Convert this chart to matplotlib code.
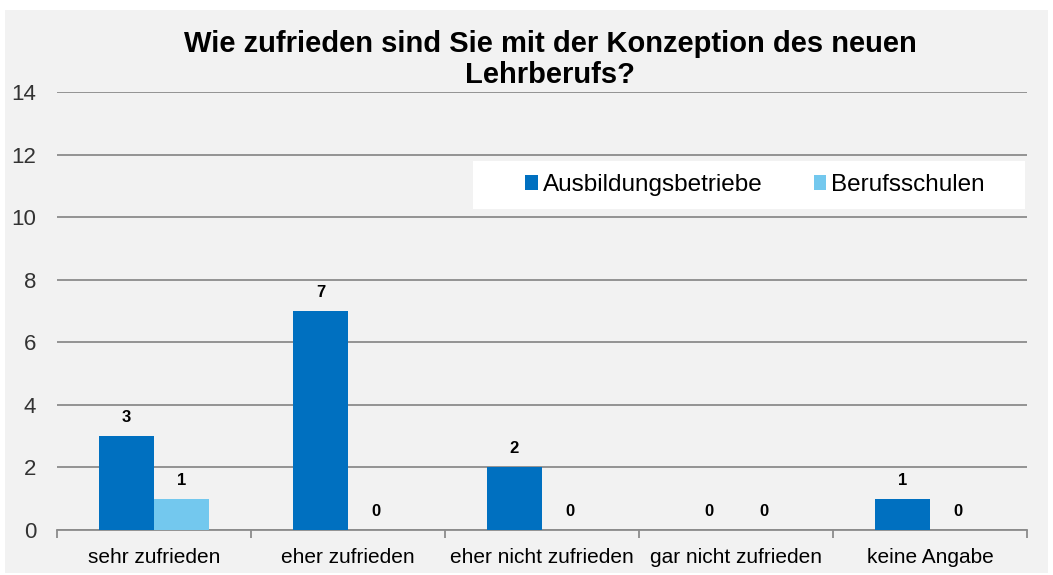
import matplotlib.pyplot as plt
import numpy as np
from matplotlib.patches import Rectangle

plt.rcParams['font.family'] = ['Liberation Sans', 'DejaVu Sans']

categories = ['sehr zufrieden', 'eher zufrieden', 'eher nicht zufrieden',
              'gar nicht zufrieden', 'keine Angabe']
betriebe = [3, 7, 2, 0, 1]
schulen = [1, 0, 0, 0, 0]
yticks = [0, 2, 4, 6, 8, 10, 12, 14]

c_betriebe = '#0070c0'
c_schulen = '#73c8ee'
grid_col = '#8c8c8c'

fig = plt.figure(figsize=(10.53, 5.75), dpi=100)
fig.patch.set_facecolor('white')
fig.patches.append(Rectangle((5 / 1053, 2 / 575), 1043 / 1053, 563 / 575,
                             transform=fig.transFigure, facecolor='#f2f2f2',
                             edgecolor='none', zorder=-10))

ax = fig.add_axes([57 / 1053, 45 / 575, 970 / 1053, 438 / 575])
ax.set_facecolor('#f2f2f2')

x = np.arange(len(categories))
w = 0.284
b1 = ax.bar(x - w / 2, betriebe, w, color=c_betriebe, label='Ausbildungsbetriebe', zorder=3)
b2 = ax.bar(x + w / 2, schulen, w, color=c_schulen, label='Berufsschulen', zorder=3)

for bars, vals in ((b1, betriebe), (b2, schulen)):
    for r, v in zip(bars, vals):
        ax.annotate(str(v), (r.get_x() + r.get_width() / 2, v), xytext=(0, 8),
                    textcoords='offset points', ha='center', va='bottom',
                    fontsize=12, fontweight='bold', color='black')

ax.set_xlim(-0.5, len(categories) - 0.5)
ax.set_ylim(0, 14)
ax.set_yticks(yticks)
ax.tick_params(axis='y', length=0, labelsize=16, colors='#333333', pad=15)
ax.yaxis.grid(True, color=grid_col, linewidth=1.3, zorder=0)
ax.set_axisbelow(True)

ax.set_xticks(x)
ax.set_xticklabels(categories, fontsize=15)
ax.tick_params(axis='x', length=0, pad=13)
ax.set_xticks(np.arange(-0.5, len(categories)), minor=True)
ax.tick_params(axis='x', which='minor', length=6, color=grid_col, width=1.3)

for s in ['top', 'right', 'left']:
    ax.spines[s].set_visible(False)
ax.spines['bottom'].set_color(grid_col)
ax.spines['bottom'].set_linewidth(1.3)

fig.text(550 / 1053, 0.948, 'Wie zufrieden sind Sie mit der Konzeption des neuen\nLehrberufs?',
         ha='center', va='top', fontsize=21, fontweight='bold', linespacing=1.15)

# white legend box
lx0, lx1, ly0, ly1 = 416 / 970, 968 / 970, 321 / 438, 369 / 438
ax.add_patch(Rectangle((lx0, ly0), lx1 - lx0, ly1 - ly0, transform=ax.transAxes,
                       facecolor='white', edgecolor='none', zorder=4))
leg = ax.legend(loc='center left', bbox_to_anchor=((525 - 57) / 970, (ly0 + ly1) / 2),
                ncol=2, frameon=False, fontsize=17.5, borderpad=0,
                handlelength=0.53, handleheight=0.53, handletextpad=0.2,
                borderaxespad=0, columnspacing=2.1)
leg.set_zorder(5)

fig.savefig('out.png', dpi=100, facecolor=fig.get_facecolor())
